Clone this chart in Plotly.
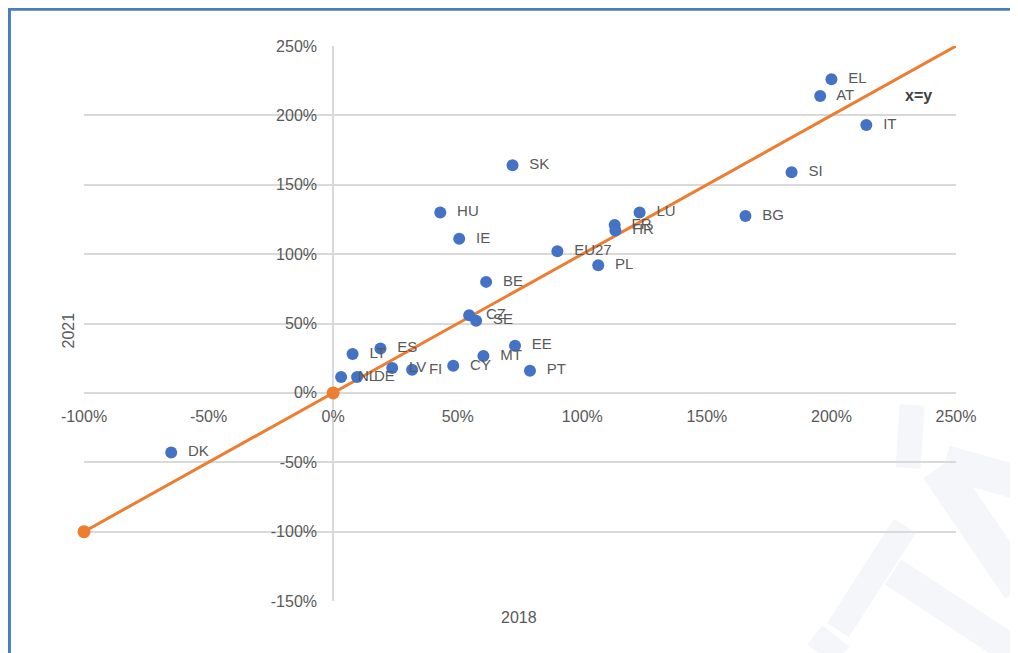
import plotly.graph_objects as go

# country values, 2018 vs 2021 (%)
countries = ["EL", "AT", "IT", "SI", "SK", "BG", "LU", "FR", "HR", "HU", "IE",
             "EU27", "PL", "BE", "CZ", "SE", "EE", "MT", "CY", "PT", "LT", "ES",
             "LV", "FI", "NL", "DE", "DK"]
x_2018 = [200, 195.5, 214, 184, 72, 165.5, 123, 113, 113.3, 43, 50.6,
          90, 106.4, 61.4, 54.6, 57.4, 73, 60.3, 48.2, 79, 7.8, 19,
          23.7, 31.7, 3.2, 9.6, -65]
y_2021 = [226, 214, 193, 159, 164, 127.5, 130, 121, 117, 130, 111,
          102, 92, 80, 56, 52, 34, 26.5, 19.5, 16, 28, 32,
          18, 16.6, 11.5, 11.5, -43]

# reference line x=y
line_x = [-100, 0, 250]
line_y = [-100, 0, 250]

x_ticks = [-100, -50, 0, 50, 100, 150, 200, 250]
y_ticks = [-150, -100, -50, 0, 50, 100, 150, 200, 250]

grey = "#595959"
grid = "#d9d9d9"
orange = "#ED7D31"
font = "Liberation Sans"

fig = go.Figure()

fig.add_trace(go.Scatter(
    x=line_x, y=line_y, mode="lines",
    line=dict(color=orange, width=3),
    hoverinfo="skip", showlegend=False, cliponaxis=False,
))
# markers only on the first two points of the x=y series
fig.add_trace(go.Scatter(
    x=line_x[:2], y=line_y[:2], mode="markers",
    marker=dict(color=orange, size=13, opacity=1),
    hoverinfo="skip", showlegend=False, cliponaxis=False,
))

fig.add_trace(go.Scatter(
    x=x_2018, y=y_2021, mode="markers+text",
    text=["  " + c for c in countries], textposition="middle right",
    textfont=dict(family=font, size=15, color=grey),
    marker=dict(color="#4472C4", size=12),
    showlegend=False, cliponaxis=False,
))

fig.add_annotation(x=235, y=214, text="<b>x=y</b>", showarrow=False,
                   font=dict(family=font, size=16, color="#404040"))
fig.add_annotation(xref="paper", yref="paper", x=-0.018, y=0.488, text="2021",
                   textangle=-90, showarrow=False, xanchor="center", yanchor="middle",
                   font=dict(family=font, size=16, color=grey))
fig.add_annotation(xref="paper", yref="paper", x=0.499, y=-0.029, text="2018",
                   showarrow=False, xanchor="center", yanchor="middle",
                   font=dict(family=font, size=16, color=grey))


def px(sx, sy):
    # screen pixel -> paper coords of the plot area (84..956, 46..601)
    return (sx - 84) / 872, (601 - sy) / 555


# faint watermark strokes, bottom right
for (a, b, w) in [((912, 405), (908, 468), 25), ((945, 462), (1020, 483), 34),
                  ((938, 468), (1020, 588), 36), ((905, 526), (838, 630), 26),
                  ((893, 572), (1012, 650), 30), ((815, 635), (842, 656), 24)]:
    x0, y0 = px(*a)
    x1, y1 = px(*b)
    fig.add_shape(type="line", xref="paper", yref="paper", x0=x0, y0=y0, x1=x1, y1=y1,
                  line=dict(color="#f5f6f9", width=w), layer="below")

# blue frame (top and left edges visible)
fig.add_shape(type="path", xref="paper", yref="paper",
              path="M -0.0855 -0.2 L -0.0855 1.066 L 1.2 1.066",
              line=dict(color="#4A7EBB", width=3))

fig.update_xaxes(
    range=[-100, 250], tickvals=x_ticks, ticktext=[f"{v}%" for v in x_ticks],
    showgrid=False, zeroline=True, zerolinecolor=grid, zerolinewidth=1.5,
    anchor="free", position=208 / 555, ticklabelstandoff=12,
    tickfont=dict(family=font, size=16, color=grey),
)
fig.update_yaxes(
    range=[-150, 250], tickvals=y_ticks, ticktext=[f"{v}%" for v in y_ticks],
    showgrid=True, gridcolor=grid, gridwidth=1.5, zeroline=True,
    zerolinecolor=grid, zerolinewidth=1.5,
    anchor="free", position=249 / 872, ticklabelstandoff=16,
    tickfont=dict(family=font, size=16, color=grey),
)

# page body adds an 8px margin, so the figure is 8px smaller on each side
fig.update_layout(
    width=1010, height=645,
    margin=dict(l=76, r=62, t=38, b=52),
    paper_bgcolor="white", plot_bgcolor="white",
)

fig.write_html("out.html")
